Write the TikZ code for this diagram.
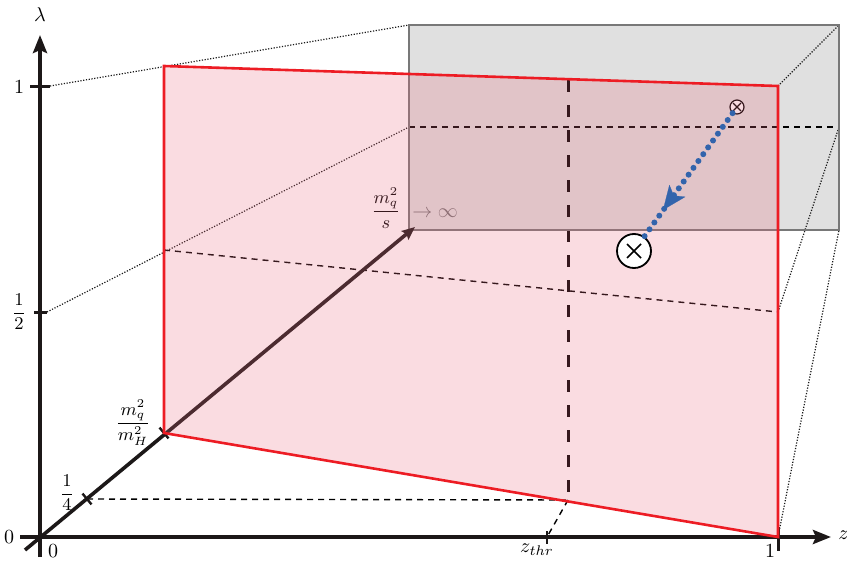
\documentclass[tikz,border=0pt]{standalone}
\usetikzlibrary{arrows.meta,calc}
\definecolor{boxgray}{RGB}{224,224,224}
\definecolor{boxedge}{RGB}{120,120,120}
\definecolor{planered}{RGB}{237,28,36}
\definecolor{planefill}{RGB}{232,105,126}
\definecolor{dotblue}{RGB}{50,100,172}
\definecolor{axisblack}{RGB}{28,24,24}
\begin{document}
\begin{tikzpicture}[x=0.5pt,y=-0.5pt,
  axis/.style={line width=2pt, color=axisblack},
  thindash/.style={line width=0.7pt, dash pattern=on 3pt off 2.5pt, color=black},
  thindot/.style={line width=0.6pt, dash pattern=on 0.6pt off 0.8pt, color=black!90},
  tickmark/.style={line width=1.5pt, color=axisblack},
  lbl/.style={inner sep=0pt},
  otimesbig/.style={circle, draw=black, fill=white, line width=0.9pt, minimum size=17pt, inner sep=0pt},
  otimessmall/.style={circle, draw=black, fill=white, line width=0.6pt, minimum size=7pt, inner sep=0pt}]
\useasboundingbox (0,0) rectangle (847,562);
% ---------- coordinates ----------
\coordinate (O) at (40,537);
\coordinate (Lbot) at (40,557);
\coordinate (Ltop) at (40,35);
\coordinate (Zleft) at (20,537);
\coordinate (Zright) at (831,537);
\coordinate (Dlow) at (25,550);
\coordinate (Dtip) at (415,227);
\coordinate (Q) at (87,499);
\coordinate (M) at (164,433);
\coordinate (L1a) at (30,86);
\coordinate (L1b) at (50,86);
\coordinate (Lha) at (34,312);
\coordinate (Lhb) at (47,312);
\coordinate (P1) at (164,433);
\coordinate (P2) at (164,66);
\coordinate (P3) at (778,86);
\coordinate (P4) at (778,537);
\coordinate (H1) at (164,250);
\coordinate (H2) at (778,312);
\coordinate (B1) at (409,25);
\coordinate (B2) at (839,25);
\coordinate (B3) at (839,230);
\coordinate (B4) at (409,230);
\coordinate (BH1) at (409,127);
\coordinate (BH2) at (839,127);
\coordinate (T1) at (568,80);
\coordinate (T2) at (568,500);
\coordinate (Qr) at (568,500);
\coordinate (Zthr) at (547,537);
\coordinate (Zthra) at (547,531);
\coordinate (Zthrb) at (547,544);
\coordinate (Z1a) at (778,527);
\coordinate (Z1b) at (778,551);
\coordinate (AH1) at (666,206);
\coordinate (AH2) at (663,210);
% ---------- gray box ----------
\fill[boxgray] (B1) rectangle (B3);
% ---------- dotted projection lines ----------
\draw[thindot] (L1b) -- (B1);
\draw[thindot] (Lhb) -- (BH1);
\draw[thindot] (P3) -- (B2);
\draw[thindot] (H2) -- (BH2);
\draw[thindot] (P4) -- (B3);
% ---------- dashed lines ----------
\draw[thindash] (H1) -- (H2);
\draw[thindash] (BH1) -- (BH2);
\draw[thindash] (Q) -- (Qr);
\draw[thindash] (Qr) -- (Zthr);
\draw[line width=1.5pt, color=black, dash pattern=on 6pt off 6.5pt] (T1) -- (T2);
% box edge
\draw[boxedge, line width=1pt] (B1) rectangle (B3);
% ---------- axes ----------
\draw[axis, -{Stealth[length=9pt,width=7pt,inset=1.5pt]}] (Lbot) -- (Ltop);
\draw[axis, -{Stealth[length=9pt,width=7pt,inset=1.5pt]}] (Zleft) -- (Zright);
\draw[axis, line width=1.8pt, -{Stealth[length=6.5pt,width=5.5pt,inset=1pt]}] (Dlow) -- (Dtip);
\draw[tickmark] (L1a) -- (L1b);
\draw[tickmark] (Lha) -- (Lhb);
\draw[tickmark, line width=1.2pt] ($(Q)+(-4.5,-5.4)$) -- ($(Q)+(4.5,5.4)$);
\draw[tickmark, line width=1.2pt] ($(M)+(-4.5,-5.4)$) -- ($(M)+(4.5,5.4)$);
\draw[tickmark, line width=1.2pt] (Zthra) -- (Zthrb);
\draw[tickmark] (Z1a) -- (Z1b);
% small otimes
\node[otimessmall] (xs) at (737,107) {};
\draw[line width=0.6pt] ($(xs)+(-4,-4)$) -- ($(xs)+(4,4)$);
\draw[line width=0.6pt] ($(xs)+(-4,4)$) -- ($(xs)+(4,-4)$);
% ---------- labels ----------
\node[lbl] (lam) at (40,15) {$\lambda$};
\node[lbl] (one) at (19,87) {$1$};
\node[lbl] (half) at (19,312) {\small$\displaystyle\frac{1}{2}$};
\node[lbl] (quarter) at (67,493) {\small$\displaystyle\frac{1}{4}$};
\node[lbl] (mqmh) at (133,423) {\small$\displaystyle\frac{m_q^2}{m_H^2}$};
\node[lbl] (zeroL) at (9,537) {$0$};
\node[lbl] (zeroB) at (53,551) {$0$};
\node[lbl] (mqs) at (386,208) {\small$\displaystyle\frac{m_q^2}{s}$};
\node[lbl, text=black!55, anchor=west] (inf) at (412,213) {$\rightarrow\infty$};
\node[lbl] (zthr) at (537,550) {$z_{thr}$};
\node[lbl] (zone) at (770,551) {$1$};
\node[lbl, anchor=west] (zlab) at (838,535) {$z$};
% ---------- plane ----------
\fill[planefill, fill opacity=0.237] (P1) -- (P2) -- (P3) -- (P4) -- cycle;
\draw[planered, line width=1.3pt, line join=miter] (P1) -- (P2) -- (P3) -- (P4) -- cycle;
% ---------- trajectory ----------
\node[otimesbig] (xl) at (634,251) {};
\draw[line width=0.8pt] ($(xl)+(-7,-7)$) -- ($(xl)+(7,7)$);
\draw[line width=0.8pt] ($(xl)+(-7,7)$) -- ($(xl)+(7,-7)$);
\draw[dotblue, line width=3pt, line cap=round, dash pattern=on 0pt off 4.2pt] (xs) -- (xl);
\draw[dotblue, line width=0.1pt, -{Stealth[length=12pt,width=10pt,inset=3pt]}] (AH1) -- (AH2);
\end{tikzpicture}
\end{document}
